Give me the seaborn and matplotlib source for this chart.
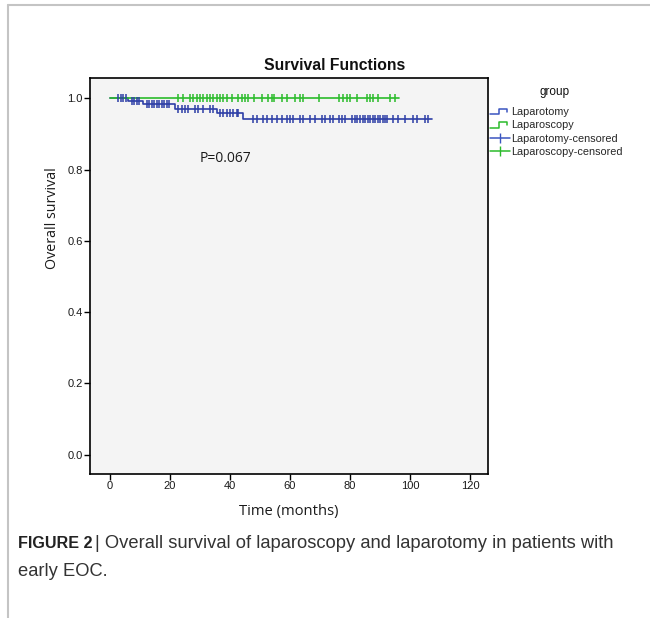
#!/usr/bin/env python3
"""
Kaplan-Meier style survival plot: laparoscopy vs laparotomy (early EOC)
"""
import numpy as np
import pandas as pd
import matplotlib
matplotlib.use('Agg')
import matplotlib.pyplot as plt
import seaborn as sns
from matplotlib.lines import Line2D
from matplotlib.legend_handler import HandlerBase

# Laparotomy: step times (months) and survival level after each step
lapt_times = [0, 6.1, 11.1, 21.7, 35.6, 44.2, 107.2]
lapt_surv = [1.0, 0.993, 0.984, 0.970, 0.958, 0.942, 0.942]
lapt_censored = [2.8, 3.6, 4.3, 5.2,
                 7.2, 8.1, 8.9, 9.8,
                 12.2, 13.1, 13.9, 14.8, 15.6, 16.4, 17.2, 18.1, 18.9, 19.8,
                 22.8, 23.9, 25.0, 26.1, 28.3, 29.4, 31.1, 33.3, 34.4,
                 36.7, 37.8, 38.9, 40.0, 41.1, 42.2, 42.8,
                 47.8, 48.9, 51.1, 52.2, 53.9, 55.6, 57.2, 58.9, 60.0, 61.1,
                 63.3, 64.4, 66.7, 68.3, 70.6, 71.7, 73.3, 74.4, 76.4, 77.2,
                 78.3, 80.6, 81.7, 82.4, 83.3, 84.2, 85.0, 85.9, 86.7, 87.6,
                 88.3, 89.2, 90.0, 90.9, 91.7, 92.4, 94.4, 96.1, 98.3, 101.1,
                 102.2, 105.0, 106.1]

# Laparoscopy: no events
lsc_times = [0, 96.4]
lsc_surv = [1.0, 1.0]
lsc_censored = [22.8, 24.4, 26.7, 27.8, 28.9, 30.0, 31.1, 32.2, 33.3, 34.4,
                35.6, 36.7, 37.8, 38.9, 40.6, 42.8, 43.9, 45.0, 46.1, 48.0,
                50.8, 52.8, 53.9, 54.7, 57.2, 58.9, 61.7, 63.3, 64.4, 69.8,
                76.4, 77.8, 78.9, 80.0, 82.4, 85.6, 86.7, 87.6, 89.4, 93.3,
                95.0]

group_labels = ['Laparotomy', 'Laparoscopy',
                'Laparotomy-censored', 'Laparoscopy-censored']
x_ticks = [0, 20, 40, 60, 80, 100, 120]
y_ticks = [0.0, 0.2, 0.4, 0.6, 0.8, 1.0]
p_text = 'P=0.067'

BLUE = '#2d3ea6'
GREEN = '#2bbb2b'


class StepHandler(HandlerBase):
    """Legend symbol shaped like a small survival step"""
    def create_artists(self, legend, orig_handle, xdescent, ydescent,
                       width, height, fontsize, trans):
        x0, y0 = -xdescent, -ydescent
        xs = [x0, x0 + 0.45 * width, x0 + 0.45 * width,
              x0 + 0.85 * width, x0 + 0.85 * width]
        ys = [y0 + 0.1 * height, y0 + 0.1 * height, y0 + 0.85 * height,
              y0 + 0.85 * height, y0 + 0.4 * height]
        line = Line2D(xs, ys, color=orig_handle.get_color(), lw=1.1,
                      transform=trans)
        return [line]


def level_at(times, surv, t):
    idx = np.searchsorted(times, t, side='right') - 1
    return np.asarray(surv)[idx]


def main():
    sns.set_theme(style='white')
    plt.rcParams['font.family'] = ['Liberation Sans', 'DejaVu Sans']

    fig = plt.figure(figsize=(6.5, 6.18), dpi=100)
    fig.patch.set_facecolor('white')
    ax = fig.add_axes([90 / 650, 1 - 474 / 618, 398 / 650, 396 / 618])
    ax.set_facecolor('#f4f4f4')

    curves = [(lapt_times, lapt_surv, lapt_censored, BLUE),
              (lsc_times, lsc_surv, lsc_censored, GREEN)]
    for times, surv, cens, col in curves:
        df = pd.DataFrame({'t': times, 's': surv})
        sns.lineplot(data=df, x='t', y='s', ax=ax, color=col, lw=1.2,
                     drawstyle='steps-post', estimator=None, sort=False)
        cdf = pd.DataFrame({'t': cens, 's': level_at(times, surv, cens)})
        sns.scatterplot(data=cdf, x='t', y='s', ax=ax, marker='|', s=40,
                        color=col, linewidth=1.1, zorder=3)

    ax.set_xlim(-6.67, 126)
    ax.set_ylim(-0.054, 1.057)
    ax.set_xticks(x_ticks)
    ax.set_xticklabels([str(v) for v in x_ticks])
    ax.set_yticks(y_ticks)
    ax.set_yticklabels([f'{v:.1f}' for v in y_ticks])
    ax.tick_params(direction='out', length=4.3, width=1, color='black',
                   labelsize=8, labelcolor='#1a1a1a', pad=1,
                   left=True, bottom=True)
    for sp in ax.spines.values():
        sp.set_color('black')
        sp.set_linewidth(1.2)

    ax.set_xlabel('Time (months)', fontsize=10.6, family=['Open Sans'],
                  color='#1a1a1a')
    ax.set_ylabel('Overall survival', fontsize=10.3, family=['Open Sans'],
                  color='#1a1a1a')
    ax.xaxis.set_label_coords(0.5, -0.077)
    ax.yaxis.set_label_coords(-0.076, 0.646)

    ax.text(30, 0.83, p_text, fontsize=10, family=['Open Sans'],
            color='#1a1a1a', va='center')

    fig.text(335 / 650, 1 - 66 / 618, 'Survival Functions', ha='center',
             va='center', fontsize=11.3, fontweight='bold', color='#111111')

    # legend (title drawn separately to get the wider gap)
    fig.text(555 / 650, 1 - 92 / 618, 'group', ha='center', va='center',
             fontsize=8.5, color='#111111')
    h1 = Line2D([], [], color='#3a55c0')
    h2 = Line2D([], [], color=GREEN)
    h3 = Line2D([], [], color='#3a55c0', marker='|', markersize=7, lw=1.1)
    h4 = Line2D([], [], color=GREEN, marker='|', markersize=7, lw=1.1)
    ax.legend([h1, h2, h3, h4], group_labels,
              handler_map={h1: StepHandler(), h2: StepHandler()},
              loc='upper left', bbox_to_anchor=(489 / 650, 1 - 106 / 618),
              bbox_transform=fig.transFigure, frameon=False,
              fontsize=7.8, borderpad=0.1, handlelength=1.85,
              handletextpad=0.12, labelspacing=0.3, borderaxespad=0)

    # outer chart frame (top and left edges)
    fig.add_artist(Line2D([8 / 650, 1], [1 - 5 / 618, 1 - 5 / 618],
                          transform=fig.transFigure, color='#c4c4c4', lw=1.5))
    fig.add_artist(Line2D([8 / 650, 8 / 650], [0, 1 - 5 / 618],
                          transform=fig.transFigure, color='#c4c4c4', lw=1.5))

    # caption
    fig.text(18 / 650, 1 - 543 / 618, 'FIGURE 2', fontsize=11.6,
             fontweight='bold', va='center', color='#222222')
    fig.text(95 / 650, 1 - 543 / 618,
             '| Overall survival of laparoscopy and laparotomy in patients with',
             fontsize=13.2, va='center', color='#333333')
    fig.text(18 / 650, 1 - 571 / 618, 'early EOC.', fontsize=13.2,
             va='center', color='#333333')

    fig.savefig('out.png', dpi=100)
    plt.close(fig)


if __name__ == "__main__":
    main()
